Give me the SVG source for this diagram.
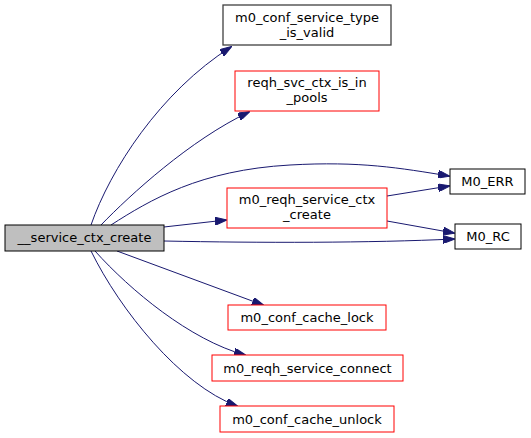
<svg xmlns="http://www.w3.org/2000/svg" width="531" height="438" viewBox="0 0 531 438">
<defs>
<style>
.n rect{fill:#fff;stroke:#000;stroke-width:1}
.n.r rect{stroke:#ff0000}
.n.g rect{stroke:#404040;stroke-width:1.3}
.n.m rect{fill:#bfbfbf}
text{font-family:"DejaVu Sans",sans-serif;font-size:13px;fill:#000;text-anchor:middle}
.e path{fill:none;stroke:#191970;stroke-width:1;marker-end:url(#a)}
</style>
<marker id="a" viewBox="0 0 12 8" refX="11" refY="4" markerWidth="12" markerHeight="8" markerUnits="userSpaceOnUse" orient="auto">
<polygon points="0,0 12,4 0,8" fill="#191970" stroke="#191970"/>
</marker>
</defs>
<rect width="531" height="438" fill="#fff"/>
<g class="e" id="edges">
<path d="M91,225 C110,170 160,92 231,47"/>
<path d="M101,225 C130,195 190,140 249,112"/>
<path d="M111,225 C150,200 200,170 290,165 C360,161 400,168 449,176"/>
<path d="M164,227 L226,220"/>
<path d="M164,241 C260,243 370,243 454,239"/>
<path d="M387,196 L449,186"/>
<path d="M387,221 L454,233"/>
<path d="M117,251 L263,305"/>
<path d="M95,251 C130,290 190,340 245,355"/>
<path d="M91,251 C120,310 180,385 237,406"/>
</g>
<g class="n m" id="service_ctx_create"><rect x="5" y="225" width="159" height="26"/><text x="84.5" y="242">__service_ctx_create</text></g>
<g class="n g" id="m0_conf_service_type_is_valid"><rect x="223" y="5" width="168" height="40"/><text x="307" y="22">m0_conf_service_type</text><text x="307" y="37">_is_valid</text></g>
<g class="n r" id="reqh_svc_ctx_is_in_pools"><rect x="235" y="71" width="144" height="40"/><text x="307" y="87">reqh_svc_ctx_is_in</text><text x="307" y="102">_pools</text></g>
<g class="n" id="M0_ERR"><rect x="450" y="169" width="75" height="25"/><text x="487.5" y="186">M0_ERR</text></g>
<g class="n r" id="m0_reqh_service_ctx_create"><rect x="227" y="188" width="160" height="40"/><text x="307" y="204">m0_reqh_service_ctx</text><text x="307" y="219">_create</text></g>
<g class="n" id="M0_RC"><rect x="455" y="224" width="66" height="25"/><text x="488" y="241">M0_RC</text></g>
<g class="n r" id="m0_conf_cache_lock"><rect x="228" y="305" width="158" height="25"/><text x="307" y="322">m0_conf_cache_lock</text></g>
<g class="n r" id="m0_reqh_service_connect"><rect x="212" y="355" width="191" height="26"/><text x="307.5" y="373">m0_reqh_service_connect</text></g>
<g class="n r" id="m0_conf_cache_unlock"><rect x="220" y="406" width="174" height="26"/><text x="307" y="424">m0_conf_cache_unlock</text></g>
</svg>
